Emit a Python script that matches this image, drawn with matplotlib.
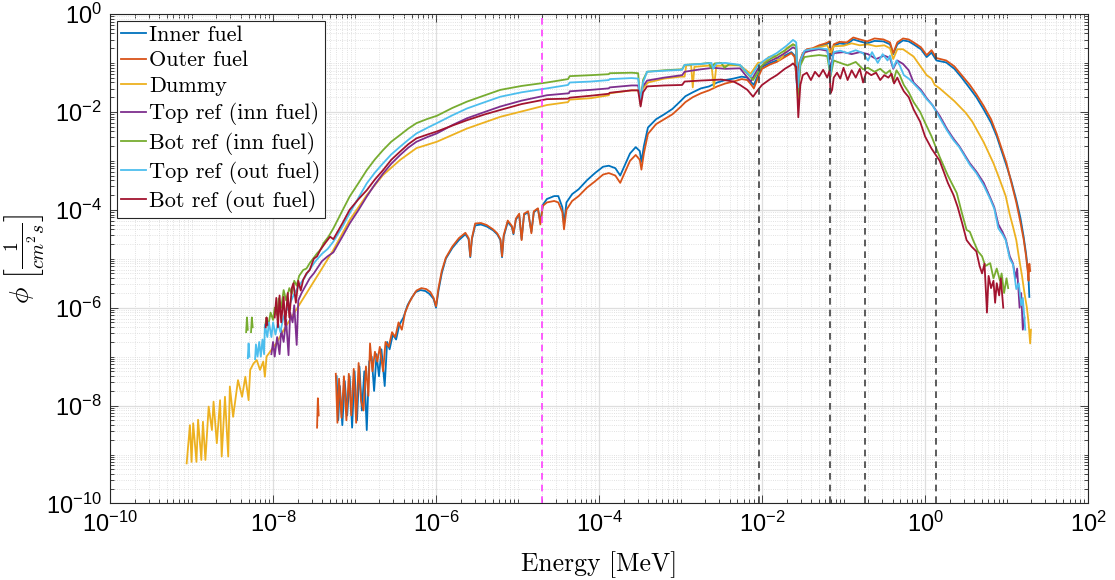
import numpy as np
import matplotlib
matplotlib.use('Agg')
import matplotlib.pyplot as plt
from matplotlib.ticker import LogLocator, NullFormatter

plt.rcParams['font.family'] = ['Liberation Sans', 'DejaVu Sans']
plt.rcParams['mathtext.fontset'] = 'cm'

nan = np.nan

# flux spectra, values as (log10 E [MeV], log10 phi)
inner_logE = [-7.22, -7.20, -7.18, -7.15, -7.12, -7.09, -7.06, -7.03, -7.00, -6.97, -6.94, -6.91,
              -6.88, -6.85, -6.82, -6.79, -6.76, -6.73, -6.70, -6.67, -6.63, -6.60, -6.57, -6.53,
              -6.49, -6.45, -6.40, -6.35, -6.30, -6.25, -6.19, -6.13, -6.08, -6.03, -6.00, -5.97,
              -5.93, -5.88, -5.80, -5.72, -5.64, -5.60, -5.58, -5.56, -5.52, -5.45, -5.38, -5.30,
              -5.25, -5.21, -5.19, -5.17, -5.12, -5.07, -5.05, -5.02, -4.98, -4.95, -4.92, -4.87,
              -4.83, -4.80, -4.75, -4.72, -4.69, -4.64, -4.55, -4.50, -4.45, -4.43, -4.40, -4.33,
              -4.25, -4.15, -4.05, -3.95, -3.88, -3.80, -3.74, -3.70, -3.62, -3.55, -3.50, -3.48,
              -3.45, -3.40, -3.30, -3.20, -3.10, -3.00, -2.94, -2.85, -2.75, -2.65, -2.55, -2.45,
              -2.35, -2.25, -2.18, -2.13, -2.10, -2.05, -2.00, -1.90, -1.82, -1.72, -1.64, -1.60,
              -1.57, -1.54, -1.50, -1.45, -1.38, -1.30, -1.22, -1.17, -1.15, -1.12, -1.05, -0.96,
              -0.88, -0.80, -0.71, -0.62, -0.51, -0.43, -0.39, -0.34, -0.27, -0.20, -0.14, -0.05,
              0.02, 0.08, 0.14, 0.26, 0.36, 0.45, 0.55, 0.63, 0.72, 0.81, 0.88, 0.94,
              1.00, 1.06, 1.12, 1.17, 1.21, 1.24, 1.26, 1.27, 1.28]
inner_logphi = [-7.4, -8.3, -7.6, -8.4, -7.5, -8.2, -7.4, -8.45, -7.3, -8.3, -7.2, -8.1,
                -7.3, -8.5, -7.1, -7.0, -7.7, -6.95, -7.4, -6.85, -7.6, -6.7, -6.85, -6.55,
                -6.65, -6.35, -6.2, -5.95, -5.8, -5.68, -5.64, -5.66, -5.72, -5.82, -6.0, -5.65,
                -5.3, -5.0, -4.78, -4.62, -4.5, -4.6, -4.97, -4.6, -4.32, -4.30, -4.34, -4.42,
                -4.50, -4.62, -4.97, -4.55, -4.25, -4.35, -4.5, -4.2, -4.1, -4.6, -4.1, -4.05,
                -4.45, -4.05, -3.98, -4.25, -3.9, -3.78, -3.72, -3.72, -3.95, -4.30, -3.85, -3.68,
                -3.58, -3.40, -3.25, -3.12, -3.10, -3.15, -3.30, -3.15, -2.85, -2.72, -2.80, -3.02,
                -2.70, -2.32, -2.15, -2.05, -1.94, -1.78, -1.68, -1.60, -1.52, -1.48, -1.40, -1.35,
                -1.32, -1.28, -1.30, -1.40, -1.45, -1.25, -1.08, -1.00, -0.95, -0.85, -0.78, -0.85,
                -1.50, -1.0, -0.82, -0.74, -0.72, -0.66, -0.63, -0.58, -0.85, -0.65, -0.60, -0.62,
                -0.52, -0.56, -0.60, -0.55, -0.56, -0.62, -0.82, -0.62, -0.54, -0.56, -0.62, -0.72,
                -0.88, -0.79, -0.95, -0.99, -1.12, -1.30, -1.52, -1.70, -1.95, -2.22, -2.50, -2.80,
                -3.10, -3.42, -3.80, -4.16, -4.55, -4.90, -5.20, -5.40, -5.78]

outer_logE = [-7.46, -7.45, -7.44, nan,
              -7.23, -7.21, -7.19, -7.16, -7.13, -7.10, -7.07, -7.04, -7.01, -6.98, -6.95, -6.92,
              -6.89, -6.86, -6.83, -6.81, -6.78, -6.75, -6.72, -6.69, -6.65, -6.62, -6.58, -6.54,
              -6.50, -6.46, -6.42, -6.38, -6.33, -6.28, -6.24, -6.18, -6.12, -6.07, -6.03, -6.00,
              -5.97, -5.93, -5.88, -5.80, -5.72, -5.64, -5.60, -5.58, -5.56, -5.52, -5.45, -5.38,
              -5.30, -5.25, -5.21, -5.19, -5.17, -5.12, -5.07, -5.05, -5.02, -4.98, -4.95, -4.92,
              -4.87, -4.83, -4.80, -4.75, -4.72, -4.69, -4.64, -4.55, -4.50, -4.45, -4.43, -4.40,
              -4.33, -4.25, -4.15, -4.05, -3.95, -3.88, -3.80, -3.74, -3.70, -3.62, -3.55, -3.50,
              -3.48, -3.45, -3.40, -3.30, -3.20, -3.10, -3.00, -2.94, -2.85, -2.75, -2.65, -2.55,
              -2.45, -2.35, -2.25, -2.18, -2.13, -2.10, -2.05, -2.00, -1.90, -1.82, -1.72, -1.64,
              -1.60, -1.57, -1.54, -1.50, -1.45, -1.38, -1.30, -1.22, -1.17, -1.15, -1.12, -1.05,
              -0.96, -0.88, -0.80, -0.71, -0.62, -0.51, -0.43, -0.39, -0.34, -0.27, -0.20, -0.14,
              -0.05, 0.02, 0.08, 0.14, 0.26, 0.36, 0.45, 0.55, 0.63, 0.72, 0.81, 0.88,
              0.94, 1.00, 1.06, 1.12, 1.17, 1.21, 1.24, 1.26, 1.27, 1.28, 1.29]
outer_logphi = [-8.45, -7.85, -8.2, nan,
                -7.35, -8.35, -7.45, -8.25, -7.4, -8.3, -7.35, -8.2, -7.25, -8.35, -7.13, -7.9,
                -8.1, -7.2, -7.8, -6.73, -7.3, -6.9, -7.1, -6.8, -7.3, -6.7, -6.8, -6.5,
                -6.6, -6.3, -6.45, -6.1, -5.9, -5.75, -5.65, -5.6, -5.62, -5.68, -5.8, -5.97,
                -5.6, -5.25, -4.98, -4.75, -4.58, -4.47, -4.58, -4.95, -4.58, -4.28, -4.27, -4.31,
                -4.40, -4.48, -4.6, -4.95, -4.52, -4.22, -4.33, -4.48, -4.18, -4.08, -4.62, -4.08,
                -4.03, -4.48, -4.03, -3.97, -4.3, -3.92, -3.85, -3.82, -3.85, -4.05, -4.40, -4.0,
                -3.82, -3.72, -3.55, -3.42, -3.28, -3.25, -3.30, -3.45, -3.30, -3.0, -2.88, -2.98,
                -3.18, -2.85, -2.45, -2.25, -2.15, -2.05, -1.90, -1.80, -1.70, -1.62, -1.56, -1.48,
                -1.42, -1.38, -1.33, -1.35, -1.45, -1.52, -1.3, -1.12, -1.03, -0.98, -0.88, -0.80,
                -0.88, -1.45, -0.98, -0.80, -0.72, -0.70, -0.64, -0.60, -0.56, -0.82, -0.62, -0.57,
                -0.58, -0.48, -0.52, -0.56, -0.50, -0.52, -0.58, -0.80, -0.58, -0.50, -0.52, -0.58,
                -0.68, -0.84, -0.74, -0.90, -0.95, -1.07, -1.25, -1.45, -1.64, -1.88, -2.15, -2.45,
                -2.75, -3.05, -3.45, -3.85, -4.25, -4.6, -4.95, -5.25, -5.45, -5.1, -5.25]

dummy_logE = [-9.06, -9.02, -9.00, -8.98, -8.94, -8.92, -8.88, -8.86, -8.83, -8.79, -8.75, -8.73,
              -8.69, -8.65, -8.63, -8.59, -8.55, -8.53, -8.49, -8.43, -8.38, -8.34, -8.30, -8.28,
              -8.24, -8.20, -8.16, -8.12, -8.10, -8.08, -7.95, -7.85, -7.70, -7.55, -7.40, -7.26,
              -7.06, -6.85, -6.65, -6.44, -6.24, -5.99, -5.62, -5.21, -4.90, -4.64, -4.38, -4.36,
              -4.10, -3.88, -3.87, -3.60, -3.52, -3.49, -3.46, -3.40, -3.20, -3.00, -2.95, -2.93,
              -2.87, -2.85, -2.83, -2.62, -2.59, -2.56, -2.40, -2.27, -2.14, -2.05, -1.96, -1.92,
              -1.85, -1.80, -1.75, -1.70, -1.62, -1.58, -1.56, -1.53, -1.48, -1.40, -1.30, -1.20,
              -1.16, -1.12, -1.00, -0.90, -0.80, -0.70, -0.60, -0.50, -0.43, -0.39, -0.34, -0.27,
              -0.14, 0.02, 0.08, 0.12, 0.18, 0.36, 0.50, 0.58, 0.72, 0.84, 0.92, 0.99,
              1.04, 1.08, 1.12, 1.15, 1.19, 1.22, 1.25, 1.27, 1.29, 1.30]
dummy_logphi = [-9.18, -8.40, -9.15, -8.36, -9.15, -8.29, -9.11, -8.33, -9.11, -8.02, -8.50, -7.92,
                -8.77, -7.89, -9.04, -7.82, -9.04, -7.61, -8.23, -7.48, -7.82, -7.41, -7.89, -7.27,
                -7.14, -7.07, -7.27, -7.10, -7.41, -7.00, -6.70, -6.40, -6.00, -5.60, -5.20, -4.82,
                -4.21, -3.70, -3.29, -2.98, -2.74, -2.61, -2.34, -2.10, -1.97, -1.86, -1.80, -1.75,
                -1.72, -1.66, -1.62, -1.56, -1.56, -1.75, -1.52, -1.40, -1.32, -1.28, -1.28, -1.05,
                -1.05, -1.50, -1.08, -1.05, -1.50, -1.06, -1.05, -1.05, -1.22, -1.00, -0.98, -0.88,
                -0.85, -0.95, -0.88, -0.70, -0.62, -0.65, -1.76, -1.00, -0.80, -0.72, -0.68, -0.64,
                -0.80, -0.66, -0.65, -0.60, -0.64, -0.62, -0.66, -0.64, -0.70, -0.92, -0.72, -0.72,
                -0.87, -1.25, -1.32, -1.45, -1.52, -1.78, -2.02, -2.20, -2.62, -3.05, -3.40, -3.72,
                -4.10, -4.35, -4.62, -4.95, -5.35, -5.70, -6.00, -6.30, -6.73, -6.45]

topinn_logE = [-8.02, -8.00, -7.98, -7.95, -7.92, -7.90, -7.87, -7.84, -7.81, -7.79, -7.76, -7.74,
               -7.71, -7.69, -7.65, -7.60, -7.55, -7.50, -7.46, -7.40, -7.33, -7.26, -7.15, -7.06,
               -6.95, -6.85, -6.75, -6.65, -6.55, -6.44, -6.34, -6.24, -6.10, -5.99, -5.80, -5.62,
               -5.40, -5.21, -4.95, -4.64, -4.37, -4.36, -4.10, -3.88, -3.87, -3.60, -3.52, -3.49,
               -3.47, -3.41, -3.20, -2.98, -2.95, -2.75, -2.60, -2.45, -2.27, -2.14, -2.05, -1.95,
               -1.82, -1.70, -1.62, -1.58, -1.56, -1.53, -1.48, -1.40, -1.30, -1.20, -1.16, -1.12,
               -1.00, -0.90, -0.80, -0.70, -0.60, -0.50, -0.43, -0.39, -0.34, -0.27, -0.20, -0.14,
               -0.05, 0.02, 0.09, 0.18, 0.27, 0.35, 0.42, 0.55, 0.63, 0.72, 0.80, 0.85,
               0.90, 0.95, 0.99, 1.04, 1.08, 1.11, 1.13, 1.16, 1.18, 1.20, 1.22]
topinn_logphi = [-6.95, -6.7, -7.0, -6.6, -6.95, -6.45, -6.7, -6.25, -6.97, -6.1, -6.3, -5.95,
                 -6.76, -5.85, -5.7, -5.55, -5.4, -5.3, -5.2, -5.05, -4.95, -4.87, -4.55, -4.28,
                 -4.0, -3.73, -3.48, -3.26, -3.06, -2.88, -2.73, -2.61, -2.51, -2.44, -2.27, -2.13,
                 -2.0, -1.89, -1.77, -1.66, -1.62, -1.58, -1.55, -1.52, -1.50, -1.46, -1.46, -1.80,
                 -1.5, -1.36, -1.30, -1.25, -1.18, -1.13, -1.10, -1.12, -1.11, -1.38, -1.12, -1.0,
                 -0.90, -0.78, -0.68, -0.72, -1.62, -1.0, -0.78, -0.75, -0.72, -0.75, -1.1, -0.80,
                 -0.78, -0.82, -0.78, -0.82, -0.92, -0.85, -0.90, -1.12, -0.95, -1.02, -1.15, -1.40,
                 -1.55, -1.72, -1.86, -2.08, -2.35, -2.55, -2.70, -3.05, -3.22, -3.45, -3.75, -3.95,
                 -4.30, -4.45, -4.6, -4.95, -5.1, -5.4, -5.2, -6.0, -5.7, -6.45, -6.2]

botinn_logE = [-8.33, -8.32, -8.31, nan, -8.27, -8.26, -8.25, nan,
               -8.10, -8.08, -8.06, -8.03, -8.00, -7.98, -7.95, -7.93, -7.90, -7.87, -7.84, -7.80,
               -7.77, -7.74, -7.71, -7.68, -7.63, -7.59, -7.55, -7.50, -7.46, -7.42, -7.38, -7.32,
               -7.26, -7.15, -7.06, -6.95, -6.85, -6.75, -6.65, -6.55, -6.44, -6.34, -6.24, -6.10,
               -5.99, -5.80, -5.62, -5.40, -5.21, -4.95, -4.64, -4.38, -4.36, -4.10, -3.88, -3.87,
               -3.60, -3.52, -3.49, -3.46, -3.41, -3.20, -2.98, -2.95, -2.75, -2.65, -2.63, -2.58,
               -2.50, -2.46, -2.40, -2.27, -2.11, -2.00, -1.90, -1.82, -1.70, -1.62, -1.58, -1.56,
               -1.53, -1.48, -1.40, -1.30, -1.20, -1.16, -1.12, -1.04, -0.95, -0.85, -0.76, -0.70,
               -0.62, -0.55, -0.48, -0.43, -0.39, -0.35, -0.31, -0.26, -0.20, -0.14, -0.06, 0.00,
               0.08, 0.18, 0.28, 0.39, 0.45, 0.51, 0.55, 0.59, 0.65, 0.70, 0.74, 0.80,
               0.84, 0.88, 0.92, 0.94, 0.97, 1.00, 1.02]
botinn_logphi = [-6.5, -6.2, -6.45, nan, -6.5, -6.2, -6.4, nan,
                 -6.4, -6.2, -6.38, -6.1, -6.25, -6.0, -6.15, -5.81, -6.0, -5.64, -5.85, -5.6,
                 -5.72, -5.45, -5.55, -5.35, -5.23, -5.2, -5.09, -4.98, -4.89, -4.82, -4.68, -4.55,
                 -4.38, -4.02, -3.73, -3.45, -3.19, -2.97, -2.78, -2.61, -2.47, -2.34, -2.23, -2.14,
                 -2.08, -1.92, -1.79, -1.66, -1.55, -1.47, -1.40, -1.33, -1.27, -1.25, -1.23, -1.21,
                 -1.20, -1.21, -1.86, -1.35, -1.18, -1.15, -1.13, -1.04, -1.02, -1.0, -1.1, -1.01,
                 -1.0, -1.1, -1.02, -1.05, -1.35, -1.05, -0.92, -0.85, -0.72, -0.62, -0.66, -1.65,
                 -1.05, -0.88, -0.86, -0.84, -0.86, -1.28, -0.95, -1.0, -1.05, -0.98, -1.13, -1.1,
                 -1.18, -1.12, -1.22, -1.15, -1.38, -1.15, -1.25, -1.45, -1.60, -1.80, -2.0, -2.22,
                 -2.5, -2.92, -3.3, -3.66, -4.05, -4.41, -4.45, -4.62, -4.85, -4.95, -5.15, -5.09,
                 -5.4, -5.2, -5.45, -5.3, -5.7, -5.4, -5.6]

topout_logE = [-8.31, -8.30, -8.29, nan,
               -8.22, -8.21, -8.19, -8.17, -8.15, -8.13, -8.11, -8.10, -8.07, -8.05, -8.02, -8.00,
               -7.97, -7.94, -7.91, -7.88, -7.85, -7.80, -7.75, -7.70, -7.62, -7.55, -7.48, -7.40,
               -7.33, -7.26, -7.15, -7.06, -6.95, -6.85, -6.75, -6.65, -6.55, -6.44, -6.34, -6.24,
               -6.10, -5.99, -5.80, -5.62, -5.40, -5.21, -4.95, -4.64, -4.38, -4.36, -4.10, -3.88,
               -3.87, -3.60, -3.52, -3.49, -3.46, -3.41, -3.20, -2.98, -2.95, -2.75, -2.62, -2.60,
               -2.56, -2.45, -2.27, -2.14, -2.05, -1.95, -1.82, -1.70, -1.62, -1.58, -1.56, -1.53,
               -1.48, -1.40, -1.30, -1.20, -1.16, -1.12, -1.04, -0.95, -0.85, -0.76, -0.70, -0.65,
               -0.58, -0.52, -0.46, -0.43, -0.39, -0.35, -0.31, -0.26, -0.20, -0.14, -0.05, 0.02,
               0.09, 0.18, 0.27, 0.35, 0.42, 0.55, 0.63, 0.72, 0.80, 0.85, 0.90, 0.95,
               0.99, 1.04, 1.08, 1.12, 1.15, 1.18, 1.20, 1.23]
topout_logphi = [-7.03, -6.73, -7.0, nan,
                 -7.05, -6.75, -7.0, -6.7, -7.0, -6.65, -6.95, -6.35, -6.6, -6.3, -6.6, -6.3,
                 -6.55, -6.3, -6.5, -6.25, -6.1, -5.95, -5.75, -5.6, -5.4, -5.22, -5.05, -4.9,
                 -4.8, -4.65, -4.35, -4.07, -3.75, -3.46, -3.24, -3.05, -2.87, -2.71, -2.57, -2.44,
                 -2.32, -2.23, -2.07, -1.93, -1.80, -1.69, -1.60, -1.52, -1.45, -1.40, -1.38, -1.35,
                 -1.33, -1.31, -1.32, -1.80, -1.40, -1.18, -1.16, -1.14, -1.04, -1.02, -1.0, -1.12,
                 -1.01, -1.0, -1.04, -1.28, -1.05, -0.92, -0.80, -0.65, -0.53, -0.58, -1.50, -0.95,
                 -0.75, -0.72, -0.70, -0.72, -1.25, -0.78, -0.75, -0.80, -0.74, -0.80, -0.95, -0.78,
                 -1.0, -0.82, -0.95, -0.85, -1.10, -0.95, -1.05, -1.25, -1.32, -1.42, -1.58, -1.74,
                 -1.86, -2.12, -2.38, -2.58, -2.72, -3.08, -3.25, -3.50, -3.78, -3.98, -4.38, -4.5,
                 -4.62, -5.0, -5.12, -5.62, -5.5, -5.95, -5.8, -6.45]

botout_logE = [-8.09, -8.08, -8.07, nan,
               -7.98, -7.96, -7.94, -7.92, -7.90, -7.87, -7.85, -7.82, -7.80, -7.77, -7.75, -7.72,
               -7.69, -7.66, -7.63, -7.59, -7.55, -7.50, -7.46, -7.42, -7.36, -7.30, -7.26, -7.15,
               -7.06, -6.95, -6.85, -6.75, -6.65, -6.55, -6.44, -6.34, -6.24, -6.10, -5.99, -5.80,
               -5.62, -5.40, -5.21, -4.95, -4.64, -4.38, -4.36, -4.10, -3.88, -3.87, -3.60, -3.52,
               -3.49, -3.46, -3.41, -3.20, -2.98, -2.95, -2.75, -2.50, -2.35, -2.27, -2.18, -2.11,
               -2.05, -2.00, -1.90, -1.82, -1.72, -1.65, -1.62, -1.58, -1.555, -1.53, -1.50, -1.45,
               -1.40, -1.35, -1.30, -1.25, -1.20, -1.17, -1.16, -1.14, -1.12, -1.08, -1.04, -1.00,
               -0.95, -0.90, -0.85, -0.80, -0.76, -0.72, -0.66, -0.60, -0.55, -0.50, -0.45, -0.41,
               -0.38, -0.34, -0.30, -0.26, -0.20, -0.14, -0.06, 0.00, 0.08, 0.18, 0.28, 0.35,
               0.40, 0.46, 0.51, 0.57, 0.63, 0.67, 0.70, 0.73, 0.76, 0.78, 0.81, 0.84,
               0.86, 0.88, 0.91, 0.93, 0.96]
botout_logphi = [-6.4, -6.2, -6.35, nan,
                 -6.2, -5.8, -6.4, -5.75, -6.3, -5.78, -6.35, -5.7, -6.2, -5.6, -5.5, -5.9,
                 -5.45, -5.65, -5.43, -5.3, -5.23, -5.0, -4.95, -4.82, -4.68, -4.55, -4.60, -4.28,
                 -4.0, -3.78, -3.60, -3.38, -3.19, -2.98, -2.81, -2.66, -2.54, -2.46, -2.40, -2.28,
                 -2.17, -2.05, -1.96, -1.84, -1.74, -1.73, -1.71, -1.67, -1.63, -1.61, -1.56, -1.56,
                 -1.89, -1.60, -1.48, -1.46, -1.45, -1.38, -1.36, -1.34, -1.38, -1.45, -1.55, -1.69,
                 -1.55, -1.45, -1.33, -1.25, -1.12, -1.05, -1.01, -1.08, -2.11, -1.45, -1.25, -1.2,
                 -1.35, -1.18, -1.28, -1.14, -1.3, -1.15, -1.62, -1.55, -1.3, -1.2, -1.32, -1.1,
                 -1.35, -1.15, -1.3, -1.12, -1.40, -1.18, -1.25, -1.20, -1.35, -1.25, -1.30, -1.22,
                 -1.42, -1.3, -1.45, -1.58, -1.70, -1.95, -2.20, -2.50, -2.75, -3.0, -3.45, -3.70,
                 -3.94, -4.3, -4.62, -4.75, -4.85, -5.15, -5.30, -5.1, -6.1, -5.35, -5.6, -5.45,
                 -5.9, -5.5, -5.75, -5.4, -6.0]

labels = ['Inner fuel', 'Outer fuel', 'Dummy', 'Top ref (inn fuel)', 'Bot ref (inn fuel)',
          'Top ref (out fuel)', 'Bot ref (out fuel)']
colors = ['#0072BD', '#D95319', '#EDB120', '#7E2F8E', '#77AC30', '#4DBEEE', '#A2142F']
series = [(inner_logE, inner_logphi), (outer_logE, outer_logphi), (dummy_logE, dummy_logphi),
          (topinn_logE, topinn_logphi), (botinn_logE, botinn_logphi),
          (topout_logE, topout_logphi), (botout_logE, botout_logphi)]

thermal_cut = 2.0e-5              # MeV, magenta line
group_bounds = [9.16e-3, 6.77e-2, 1.82e-1, 1.35]   # MeV, dashed lines

fig = plt.figure(figsize=(11.15, 5.8), dpi=100)
ax = fig.add_axes([0.0987, 0.1319, 0.8771, 0.8440])

for (lx, ly), lab, c in zip(series, labels, colors):
    ax.loglog(10.0 ** np.array(lx), 10.0 ** np.array(ly), color=c, lw=1.3, label=lab)

ax.axvline(thermal_cut, color='#ff40ff', ls='--', lw=1.2, dashes=(4, 3), zorder=5)
for b in group_bounds:
    ax.axvline(b, color='#404040', ls='--', lw=1.2, dashes=(4, 3), zorder=5)

ax.set_xlim(1e-10, 1e2)
ax.set_ylim(1e-10, 1e0)
ax.set_xticks([10.0 ** k for k in range(-10, 3, 2)])
ax.set_yticks([10.0 ** k for k in range(-10, 1, 2)])
for axis in (ax.xaxis, ax.yaxis):
    axis.set_minor_locator(LogLocator(base=10, subs=np.arange(1, 10), numticks=200))
    axis.set_minor_formatter(NullFormatter())

ax.grid(which='major', color='#dedede', lw=0.9, ls='-')
ax.grid(which='minor', color='#d8d8d8', lw=0.6, ls=':')
ax.set_axisbelow(True)
ax.tick_params(which='both', direction='in', top=True, right=True, color='#262626', width=0.6)
ax.tick_params(which='major', length=6, labelsize=17, pad=6)
ax.tick_params(which='minor', length=3)
for s in ax.spines.values():
    s.set_color('#262626')
    s.set_linewidth(0.8)

ax.set_xlabel('Energy [MeV]', fontfamily='cmr10', fontsize=18.5, labelpad=10)
ax.set_ylabel(r'$\phi\ \left[\frac{1}{cm^2s}\right]$', fontsize=20)
ax.yaxis.set_label_coords(-0.066, 0.5)

leg = ax.legend(loc='upper left', prop={'family': 'cmr10', 'size': 16}, frameon=True,
                fancybox=False, edgecolor='#262626', framealpha=1, borderaxespad=0.3,
                handlelength=1.1, handletextpad=0.15, labelspacing=0.28, borderpad=0.2)
leg.get_frame().set_linewidth(0.8)

fig.savefig('out.png', dpi=100)
